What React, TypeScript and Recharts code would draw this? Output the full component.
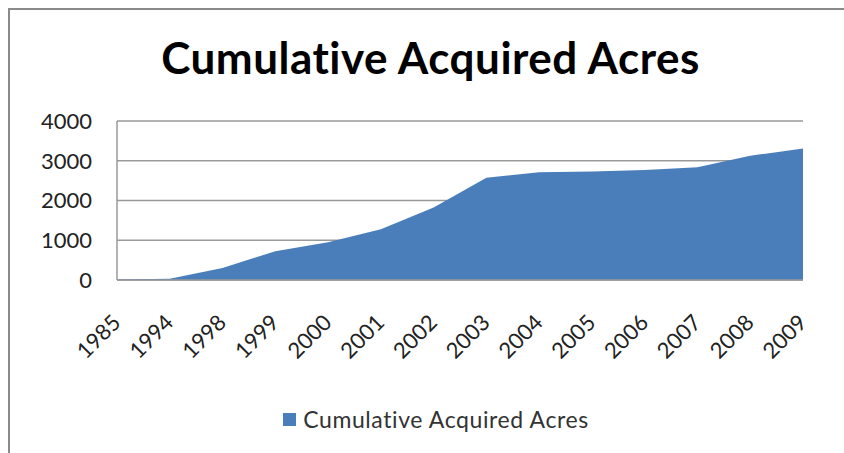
import { AreaChart, Area, XAxis, YAxis, CartesianGrid, Legend } from 'recharts';

const years = ['1985', '1994', '1998', '1999', '2000', '2001', '2002', '2003', '2004', '2005', '2006', '2007', '2008', '2009'];
const acres = [10, 30, 300, 725, 950, 1275, 1825, 2575, 2710, 2730, 2765, 2835, 3125, 3310];
const yTicks = [0, 1000, 2000, 3000, 4000];

const seriesName = 'Cumulative Acquired Acres';
const fill = '#4a7ebb';
const font = 'Lato, "Open Sans", sans-serif';

const data = years.map((year, i) => ({ year, acres: acres[i] }));

function YearTick({ x, y, payload }: any) {
    return (
        <text
            transform={`translate(${x + 5}, ${y + 36}) rotate(-45)`}
            textAnchor="end"
            fontSize={22}
            fontFamily={font}
            fill="#222"
        >
            {payload.value}
        </text>
    );
}

function LegendBox() {
    return (
        <div style={{ display: 'flex', justifyContent: 'center', alignItems: 'center', fontFamily: font, fontSize: 23, letterSpacing: 0.6, color: '#333' }}>
            <span style={{ width: 13, height: 13, background: fill, marginRight: 7, display: 'inline-block' }} />
            <span>{seriesName}</span>
        </div>
    );
}

export default function App() {
    return (
        <div style={{ position: 'absolute', left: 0, top: 0, width: 844, height: 453, background: '#fff', overflow: 'hidden' }}>
            <div style={{ position: 'absolute', left: 8, top: 8, width: 900, height: 500, borderLeft: '2px solid #8a8a8a', borderTop: '2px solid #8a8a8a' }} />
            <div style={{ position: 'absolute', left: 0, top: 31, width: 861, textAlign: 'center', fontFamily: font, fontWeight: 700, fontSize: 44, letterSpacing: 0.5, color: '#000' }}>
                {seriesName}
            </div>
            <div style={{ position: 'absolute', left: 0, top: 0 }}>
                <AreaChart width={844} height={453} data={data} margin={{ top: 121, right: 41, bottom: 113, left: 57 }}>
                    <CartesianGrid vertical={false} stroke="#999" strokeWidth={1.5} />
                    <XAxis
                        dataKey="year"
                        height={60}
                        tick={<YearTick />}
                        tickLine={false}
                        axisLine={{ stroke: '#999', strokeWidth: 1.5 }}
                        interval={0}
                    />
                    <YAxis
                        width={60}
                        domain={[0, 4000]}
                        ticks={yTicks}
                        tickLine={false}
                        axisLine={{ stroke: '#999', strokeWidth: 1.5 }}
                        tickMargin={19}
                        tick={{ fontSize: 22, fontFamily: font, fill: '#222' }}
                    />
                    <Legend
                        layout="horizontal"
                        verticalAlign="middle"
                        align="center"
                        content={<LegendBox />}
                        wrapperStyle={{ top: 405, left: 14, width: 844 }}
                    />
                    <Area
                        type="linear"
                        dataKey="acres"
                        name={seriesName}
                        stroke="none"
                        fill={fill}
                        fillOpacity={1}
                        isAnimationActive={false}
                    />
                </AreaChart>
            </div>
        </div>
    );
}
